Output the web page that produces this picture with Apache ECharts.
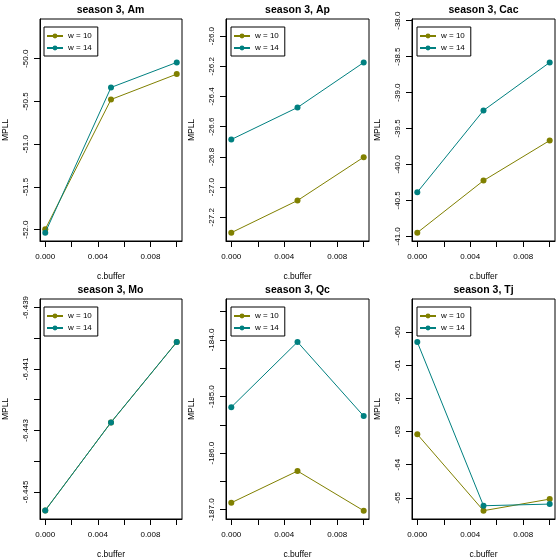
<!DOCTYPE html>
<html>
<head>
<meta charset="utf-8">
<script src="https://cdn.jsdelivr.net/npm/echarts@6/dist/echarts.min.js"></script>
<style>html,body{margin:0;padding:0;background:#fff}#c{width:560px;height:560px}</style>
</head>
<body>
<div id="c"></div>
<script>
// ---- data ----
const cBuffer = [0, 0.005, 0.01];
const seriesNames = ['w = 10', 'w = 14'];
const panelNames = ['Am', 'Ap', 'Cac', 'Mo', 'Qc', 'Tj'];

const am10 = [-51.995, -50.477, -50.180];
const am14 = [-52.035, -50.336, -50.043];
const ap10 = [-27.302, -27.089, -26.802];
const ap14 = [-26.685, -26.473, -26.175];
const cac10 = [-40.949, -40.225, -39.667];
const cac14 = [-40.387, -39.249, -38.581];
const mo10 = [-6.44560, -6.44274, -6.44013];
const mo14 = [-6.44560, -6.44274, -6.44013];
const qc10 = [-186.877, -186.316, -187.018];
const qc14 = [-185.187, -184.035, -185.345];
const tj10 = [-63.084, -65.389, -65.040];
const tj14 = [-60.300, -65.240, -65.190];

const amLim = [-52.133, -49.535];
const apLim = [-27.357, -25.887];
const cacLim = [-41.065, -37.977];
const moLim = [-6.44588, -6.43873];
const qcLim = [-187.164, -183.275];
const tjLim = [-65.640, -59.002];

const amTicks = [-52.0, -51.5, -51.0, -50.5, -50.0];
const amLabels = [-52.0, -51.5, -51.0, -50.5, -50.0];
const apTicks = [-27.2, -27.0, -26.8, -26.6, -26.4, -26.2, -26.0];
const apLabels = [-27.2, -27.0, -26.8, -26.6, -26.4, -26.2, -26.0];
const cacTicks = [-41.0, -40.5, -40.0, -39.5, -39.0, -38.5, -38.0];
const cacLabels = [-41.0, -40.5, -40.0, -39.5, -39.0, -38.5, -38.0];
const moTicks = [-6.445, -6.444, -6.443, -6.442, -6.441, -6.440, -6.439];
const moLabels = [-6.445, -6.443, -6.441, -6.439];
const qcTicks = [-187.0, -186.5, -186.0, -185.5, -185.0, -184.5, -184.0, -183.5];
const qcLabels = [-187.0, -186.0, -185.0, -184.0];
const tjTicks = [-65, -64, -63, -62, -61, -60];
const tjLabels = [-65, -64, -63, -62, -61, -60];

const xTicks = [0, 0.002, 0.004, 0.006, 0.008, 0.010];
const xLabels = [0, 0.004, 0.008];
const xLim = [-0.0004, 0.0104];

// ---- layout / style ----
const FONT = '"Liberation Sans", Arial, Helvetica, sans-serif';
const colors = ['#808000', '#008080'];
const colLeft = [39, 226, 412];
const rowTop = [19, 299];
const W = 143, H = 222;

const panels = [
  { name: panelNames[0], s: [am10, am14], lim: amLim, ticks: amTicks, labels: amLabels, dec: 1 },
  { name: panelNames[1], s: [ap10, ap14], lim: apLim, ticks: apTicks, labels: apLabels, dec: 1 },
  { name: panelNames[2], s: [cac10, cac14], lim: cacLim, ticks: cacTicks, labels: cacLabels, dec: 1 },
  { name: panelNames[3], s: [mo10, mo14], lim: moLim, ticks: moTicks, labels: moLabels, dec: 3 },
  { name: panelNames[4], s: [qc10, qc14], lim: qcLim, ticks: qcTicks, labels: qcLabels, dec: 1 },
  { name: panelNames[5], s: [tj10, tj14], lim: tjLim, ticks: tjTicks, labels: tjLabels, dec: 0 }
];

const option = {
  animation: false,
  backgroundColor: '#fff',
  title: [], grid: [], xAxis: [], yAxis: [], legend: [], series: []
};

panels.forEach((p, i) => {
  const left = colLeft[i % 3], top = rowTop[Math.floor(i / 3)];
  option.grid.push({ left: left, top: top, width: W, height: H, show: true, borderColor: '#000', borderWidth: 1, containLabel: false });
  option.title.push({
    text: 'season 3, ' + p.name, left: left + W / 2, top: top - 14, textAlign: 'center', padding: 0,
    textStyle: { fontSize: 10.5, fontWeight: 'bold', color: '#000', fontFamily: FONT }
  });
  option.xAxis.push({
    type: 'value', gridIndex: i, min: xLim[0], max: xLim[1],
    axisLine: { show: true, onZero: false, lineStyle: { color: '#000', width: 1 } },
    axisTick: { show: true, customValues: xTicks, length: 6, lineStyle: { color: '#000' } },
    axisLabel: { customValues: xLabels, margin: 12, fontSize: 8, color: '#000', fontFamily: FONT, formatter: v => v.toFixed(3) },
    splitLine: { show: false },
    name: 'c.buffer', nameLocation: 'middle', nameGap: 31,
    nameTextStyle: { fontSize: 8.5, color: '#000', fontFamily: FONT }
  });
  option.yAxis.push({
    type: 'value', gridIndex: i, min: p.lim[0], max: p.lim[1],
    axisLine: { show: true, onZero: false, lineStyle: { color: '#000', width: 1 } },
    axisTick: { show: true, customValues: p.ticks, length: 6, lineStyle: { color: '#000' } },
    axisLabel: { customValues: p.labels, rotate: 90, margin: 10, fontSize: 8, color: '#000', fontFamily: FONT, formatter: v => v.toFixed(p.dec) },
    splitLine: { show: false },
    name: 'MPLL', nameLocation: 'middle', nameGap: 30, nameRotate: 90,
    nameTextStyle: { fontSize: 8.5, color: '#000', fontFamily: FONT }
  });
  option.legend.push({
    left: left + 5, top: top + 8, orient: 'vertical', selectedMode: false,
    itemWidth: 16, itemHeight: 6, itemGap: 4, padding: [5, 6, 4, 2],
    borderColor: '#000', borderWidth: 1, backgroundColor: '#fff',
    textStyle: { fontSize: 8, color: '#000', fontFamily: FONT },
    data: seriesNames
  });
  p.s.forEach((vals, k) => {
    option.series.push({
      type: 'line', name: seriesNames[k], xAxisIndex: i, yAxisIndex: i,
      data: cBuffer.map((x, j) => [x, vals[j]]),
      symbol: 'circle', symbolSize: 6, showSymbol: true,
      itemStyle: { color: colors[k] }, lineStyle: { color: colors[k], width: 1 },
      z: 2 + k
    });
  });
});

const chart = echarts.init(document.getElementById('c'), null, { renderer: 'canvas' });
chart.setOption(option);
</script>
</body>
</html>
